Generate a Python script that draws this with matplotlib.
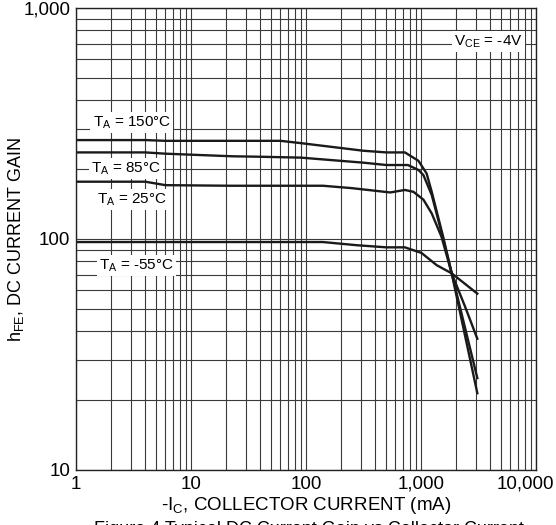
import matplotlib.pyplot as plt
import matplotlib.transforms as mtransforms
import numpy as np

plt.rcParams['font.family'] = ['Liberation Sans', 'DejaVu Sans']

# curves (Ic in mA, hFE)
ic_150 = [1, 4, 6, 60, 90, 315, 500, 725, 950, 1120, 1240, 1560, 1850, 3090]
hfe_150 = [268, 268, 266, 266, 260, 241, 237, 237, 218, 192, 160, 102, 71, 21.5]

ic_85 = [1, 4, 6, 23, 40, 90, 315, 500, 770, 950, 1050, 1240, 1560, 1850, 3090]
hfe_85 = [237, 237, 234, 228, 227, 225, 214, 209, 209, 199, 189, 155, 100, 71, 25]

ic_25 = [1, 4, 6, 22, 140, 250, 540, 725, 860, 1050, 1240, 1510, 1850, 2415, 3090]
hfe_25 = [177, 177, 171, 170, 170, 166, 159, 163, 160, 148, 129, 102, 71, 51, 37]

ic_m55 = [1, 140, 275, 500, 725, 1010, 1370, 1850, 3090]
hfe_m55 = [97, 97, 94, 92, 92, 87, 77, 71, 58]

x_ticks = [1, 10, 100, 1000, 10000]
x_labels = ['1', '10', '100', '1,000', '10,000']
y_ticks = [10, 100, 1000]
y_labels = ['10', '100', '1,000']

fig = plt.figure(figsize=(5.56, 5.25), dpi=100)
ax = fig.add_axes([0.1367, 0.1048, 0.8273, 0.88])

ax.set_xscale('log')
ax.set_yscale('log')
ax.set_xlim(1, 10000)
ax.set_ylim(10, 1000)

# grid: every decade split at 2..9
ax.grid(which='both', color='#3a3a3a', linewidth=0.8)
ax.set_axisbelow(True)

for x, y in [(ic_150, hfe_150), (ic_85, hfe_85), (ic_25, hfe_25), (ic_m55, hfe_m55)]:
    ax.plot(x, y, color='#1a1a1a', linewidth=1.7, solid_joinstyle='round')

ax.set_xticks(x_ticks)
ax.set_xticklabels(x_labels)
ax.set_yticks(y_ticks)
ax.set_yticklabels(y_labels)
ax.tick_params(which='both', length=0, labelsize=13.5)
ax.tick_params(axis='x', pad=4)
ax.tick_params(axis='y', pad=4)
ax.xaxis.set_minor_formatter(plt.NullFormatter())
ax.yaxis.set_minor_formatter(plt.NullFormatter())

# the last x label sits a little left of its tick so it stays on the page
last = ax.get_xticklabels()[-1]
last.set_transform(last.get_transform() + mtransforms.ScaledTranslation(-0.11, 0, fig.dpi_scale_trans))

for s in ax.spines.values():
    s.set_linewidth(1.0)
    s.set_color('#222222')

box = dict(facecolor='white', edgecolor='none', pad=1.5)
fs = 11
ax.text(3.05, 318, r'T$_\mathregular{A}$ = 150°C', fontsize=fs, ha='center', va='center', bbox=box)
ax.text(2.74, 202, r'T$_\mathregular{A}$ = 85°C', fontsize=fs, ha='center', va='center', bbox=box)
ax.text(3.05, 148, r'T$_\mathregular{A}$ = 25°C', fontsize=fs, ha='center', va='center', bbox=box)
ax.text(3.37, 77, r'T$_\mathregular{A}$ = -55°C', fontsize=fs, ha='center', va='center', bbox=box)
ax.text(3850, 714, r'V$_\mathregular{CE}$ = -4V', fontsize=fs, ha='center', va='center', bbox=box)

ax.set_xlabel(r'-I$_\mathregular{C}$, COLLECTOR CURRENT (mA)', fontsize=13.5, labelpad=2)
ax.set_ylabel(r'h$_\mathregular{FE}$, DC CURRENT GAIN', fontsize=13)
ax.yaxis.set_label_coords(-0.108, 0.5)

fig.text(0.555, -0.008, 'Figure 4 Typical DC Current Gain vs Collector Current',
         fontsize=13, ha='center', va='center')

plt.savefig('out.png', dpi=100)
